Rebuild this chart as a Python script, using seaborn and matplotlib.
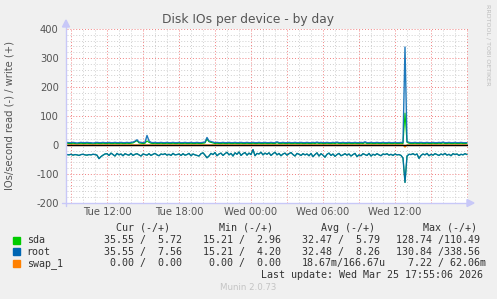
import matplotlib
matplotlib.use("Agg")
import matplotlib.pyplot as plt
import matplotlib.dates as mdates
from matplotlib.patches import Polygon
from matplotlib.lines import Line2D
import numpy as np
import pandas as pd
import seaborn as sns

# ---------------- data ----------------
start_time = "2026-03-24 08:40"
sample_minutes = 10

# read IOs/s (drawn negative)
read_sda = [
    33, 34, 32, 35, 33, 34, 36, 33, 32, 34, 35, 33, 34, 32, 33, 35, 47, 40, 35, 31,
    30, 36, 28, 33, 38, 29, 34, 31, 37, 30, 33, 35, 29, 36, 32, 30, 34, 38, 31, 33,
    35, 30, 36, 32, 29, 34, 37, 31, 33, 30, 35, 32, 36, 29, 34, 33, 31, 36, 30, 35,
    33, 29, 37, 31, 34, 36, 38, 30, 27, 35, 44, 38, 29, 33, 26, 37, 31, 28, 36, 30,
    25, 34, 29, 38, 27, 32, 24, 36, 30, 26, 35, 28, 33, 16, 37, 29, 31, 25, 34, 28,
    32, 27, 36, 30, 25, 34, 29, 37, 31, 28, 35, 30, 26, 33, 38, 29, 32, 36, 30, 34,
    31, 37, 29, 40, 33, 27, 38, 30, 35, 42, 32, 28, 36, 31, 39, 33, 29, 37, 34, 30,
    35, 31, 38, 33, 29, 40, 34, 37, 30, 33, 36, 29, 38, 32, 35, 30, 34, 37, 31, 33,
    30, 35, 32, 36, 31, 34, 33, 36, 45, 129, 38, 32, 33, 30, 34, 31, 46, 36, 31, 34,
    29, 37, 32, 35, 30, 33, 36, 31, 34, 29, 35, 32, 37, 30, 33, 31, 36, 32, 34, 30,
    33,
]
read_root = list(read_sda)

# write IOs/s (drawn positive)
write_sda = [
    6, 5, 5, 6, 5, 4, 5, 6, 5, 5, 6, 5, 5, 4, 5, 6, 5, 5, 6, 5,
    5, 6, 5, 5, 6, 5, 5, 6, 5, 5, 6, 5, 6, 7, 11, 15, 7, 6, 5, 6,
    14, 9, 6, 5, 6, 5, 5, 6, 5, 5, 6, 5, 5, 6, 5, 5, 6, 5, 5, 6,
    5, 5, 6, 5, 5, 6, 5, 5, 6, 7, 20, 11, 9, 7, 5, 6, 5, 5, 6, 5,
    5, 6, 5, 5, 6, 5, 5, 6, 5, 5, 6, 5, 5, 6, 5, 5, 6, 5, 5, 6,
    5, 5, 6, 5, 5, 8, 5, 5, 6, 5, 5, 6, 5, 5, 6, 5, 5, 6, 5, 5,
    6, 5, 5, 6, 5, 7, 5, 6, 5, 5, 6, 5, 5, 6, 5, 7, 5, 5, 6, 5,
    5, 6, 5, 5, 6, 5, 5, 6, 5, 8, 5, 5, 6, 5, 5, 6, 5, 5, 6, 5,
    5, 6, 5, 5, 6, 5, 5, 6, 5, 110, 9, 6, 5, 5, 6, 5, 5, 6, 5, 5,
    6, 5, 5, 6, 5, 5, 6, 5, 7, 5, 5, 6, 5, 5, 6, 5, 5, 6, 5, 5,
    6,
]
write_root = [
    9, 8, 8, 9, 8, 7, 8, 9, 8, 8, 9, 8, 8, 7, 8, 9, 8, 8, 9, 8,
    8, 9, 8, 8, 9, 8, 8, 9, 8, 8, 9, 8, 9, 10, 13, 18, 10, 9, 8, 9,
    33, 14, 9, 8, 9, 8, 8, 9, 8, 8, 9, 8, 8, 9, 8, 8, 9, 8, 8, 9,
    8, 8, 9, 8, 8, 9, 8, 8, 9, 10, 26, 14, 12, 10, 8, 9, 8, 8, 9, 8,
    8, 9, 8, 8, 9, 8, 8, 9, 8, 8, 9, 8, 8, 9, 8, 8, 9, 8, 8, 9,
    8, 8, 9, 8, 8, 11, 8, 8, 9, 8, 8, 9, 8, 8, 9, 8, 8, 9, 8, 8,
    9, 8, 8, 9, 8, 10, 8, 9, 8, 8, 9, 8, 8, 9, 8, 10, 8, 8, 9, 8,
    8, 9, 8, 8, 9, 8, 8, 9, 8, 11, 8, 8, 9, 8, 8, 9, 8, 8, 9, 8,
    8, 9, 8, 8, 9, 8, 8, 9, 8, 338, 12, 9, 8, 8, 9, 8, 8, 9, 8, 8,
    9, 8, 8, 9, 8, 8, 9, 8, 10, 8, 8, 9, 8, 8, 9, 8, 8, 9, 8, 8,
    8,
]
read_swap = [0.0] * 169 + [7.22] + [0.0] * 31
write_swap = [0.0] * 201

series_names = ["sda", "root", "swap_1"]
series_colors = ["#00cc00", "#0066b3", "#ff8000"]

ytick_values = [-200, -100, 0, 100, 200, 300, 400]
xtick_times = ["2026-03-24 12:00", "2026-03-24 18:00", "2026-03-25 00:00",
               "2026-03-25 06:00", "2026-03-25 12:00"]
xtick_labels = ["Tue 12:00", "Tue 18:00", "Wed 00:00", "Wed 06:00", "Wed 12:00"]

legend_cur = ["35.55 /  5.72", "35.55 /  7.56", " 0.00 /  0.00"]
legend_min = ["15.21 /  2.96", "15.21 /  4.20", " 0.00 /  0.00"]
legend_avg = ["32.47 /  5.79", "32.48 /  8.26", "18.67m/166.67u"]
legend_max = ["128.74 /110.49", "130.84 /338.56", "  7.22 / 62.06m"]

title = "Disk IOs per device - by day"
ylabel = "IOs/second read (-) / write (+)"
last_update = "Last update: Wed Mar 25 17:55:06 2026"

# ---------------- figure ----------------
sns.set_style("white")
plt.rcParams["font.family"] = ["DejaVu Sans"]

W, H = 497, 299
fig = plt.figure(figsize=(W / 100, H / 100), dpi=100, facecolor="#f0f0f0")
L, R, T, B = 67, 468, 29, 203
ax = fig.add_axes([L / W, 1 - B / H, (R - L) / W, (B - T) / H])
ax.set_facecolor("white")


def fx(x):
    return x / W


def fy(y):
    return 1 - y / H


times = pd.date_range(start_time, periods=len(read_sda), freq=f"{sample_minutes}min")
df = pd.DataFrame({
    "time": times,
    "sda_read": -np.array(read_sda, float), "sda_write": np.array(write_sda, float),
    "root_read": -np.array(read_root, float), "root_write": np.array(write_root, float),
    "swap_1_read": -np.array(read_swap, float), "swap_1_write": np.array(write_swap, float),
})

alphas = {"sda": 1.0, "root": 0.88, "swap_1": 1.0}
widths = {"sda": 0.8, "root": 1.0, "swap_1": 0.9}
for name, col in zip(series_names, series_colors):
    for kind in ("read", "write"):
        sns.lineplot(data=df, x="time", y=f"{name}_{kind}", ax=ax, color=col,
                     lw=widths[name], estimator=None, alpha=alphas[name],
                     legend=False, zorder=3)

ax.axhline(0, color="black", lw=1.0, zorder=4)

x0 = pd.Timestamp("2026-03-24 08:40")
x1 = pd.Timestamp("2026-03-25 18:05")
ax.set_xlim(x0, x1)
ax.set_ylim(-200, 400)

# grid
ax.yaxis.set_major_locator(matplotlib.ticker.FixedLocator(ytick_values))
ax.yaxis.set_minor_locator(matplotlib.ticker.MultipleLocator(20))
ax.set_yticklabels([str(v) for v in ytick_values])
ax.xaxis.set_major_locator(mdates.HourLocator(byhour=range(0, 24, 3)))
ax.xaxis.set_minor_locator(mdates.HourLocator())
ax.xaxis.set_major_formatter(matplotlib.ticker.NullFormatter())

ax.grid(which="minor", color="#cfcfcf", lw=0.7, ls=(0, (1, 2)), zorder=1)
ax.grid(which="major", color="#f08080", lw=0.7, ls=(0, (1, 2)), zorder=2)
ax.set_axisbelow(True)

ax.tick_params(axis="both", which="major", length=3, width=0.7, color="#f08080",
               labelsize=7.2, labelcolor="#555555", pad=3)
ax.tick_params(axis="both", which="minor", length=0)
ax.tick_params(axis="x", labelbottom=False)
for s in ax.spines.values():
    s.set_visible(False)
ax.set_xlabel("")
ax.set_ylabel("")

# x tick labels (every 6 h)
for t, lab in zip(xtick_times, xtick_labels):
    xp = mdates.date2num(pd.Timestamp(t))
    ax.text(xp, -0.025, lab, transform=ax.get_xaxis_transform(), ha="center",
            va="top", fontsize=7.2, color="#555555")

# axis lines with arrows (lavender)
axis_col = "#c8c8f8"
fig.add_artist(Line2D([fx(66), fx(66)], [fy(206), fy(26)], color=axis_col,
                      lw=1.0, transform=fig.transFigure))
fig.add_artist(Polygon([[fx(62.5), fy(27)], [fx(69.5), fy(27)], [fx(66), fy(20)]],
                       closed=True, color=axis_col, transform=fig.transFigure))
fig.add_artist(Line2D([fx(62), fx(468)], [fy(203), fy(203)], color=axis_col,
                      lw=1.0, transform=fig.transFigure))
fig.add_artist(Polygon([[fx(467), fy(199.5)], [fx(467), fy(206.5)], [fx(474), fy(203)]],
                       closed=True, color=axis_col, transform=fig.transFigure))

# texts
fig.text(fx(248.5), fy(19), title, ha="center", va="center", fontsize=8.8,
         color="#555555")
fig.text(fx(10), fy(116), ylabel, ha="center", va="center", rotation=90,
         fontsize=7.2, color="#555555")
fig.text(fx(488), fy(45), "RRDTOOL / TOBI OETIKER", ha="center", va="center",
         rotation=270, fontsize=4.6, color="#bdbdbd")

mono = "DejaVu Sans Mono"
fs = 7.2
tc = "#333333"
row_y = [240, 251.7, 263.3]
header_y = 227.7
for x, h in zip([116, 219, 321, 423], ["Cur (-/+)", "Min (-/+)", "Avg (-/+)", "Max (-/+)"]):
    fig.text(fx(x), fy(header_y), h, ha="left", va="center", family=mono,
             fontsize=fs, color=tc)
for i, (name, col) in enumerate(zip(series_names, series_colors)):
    y = row_y[i]
    fig.add_artist(Polygon([[fx(13), fy(y - 3.5)], [fx(20), fy(y - 3.5)],
                            [fx(20), fy(y + 3.5)], [fx(13), fy(y + 3.5)]],
                           closed=True, color=col, transform=fig.transFigure))
    fig.text(fx(26.7), fy(y), name, ha="left", va="center", family=mono,
             fontsize=fs, color=tc)
    for x, vals in zip([104, 203, 302, 396], [legend_cur, legend_min, legend_avg, legend_max]):
        fig.text(fx(x), fy(y), vals[i], ha="left", va="center", family=mono,
                 fontsize=fs, color=tc)
fig.text(fx(261), fy(275.5), last_update, ha="left", va="center", family=mono,
         fontsize=fs, color=tc)
fig.text(fx(248), fy(288), "Munin 2.0.73", ha="center", va="center",
         fontsize=6.2, color="#c4c4c4")

fig.savefig("out.png", dpi=100, facecolor=fig.get_facecolor())
